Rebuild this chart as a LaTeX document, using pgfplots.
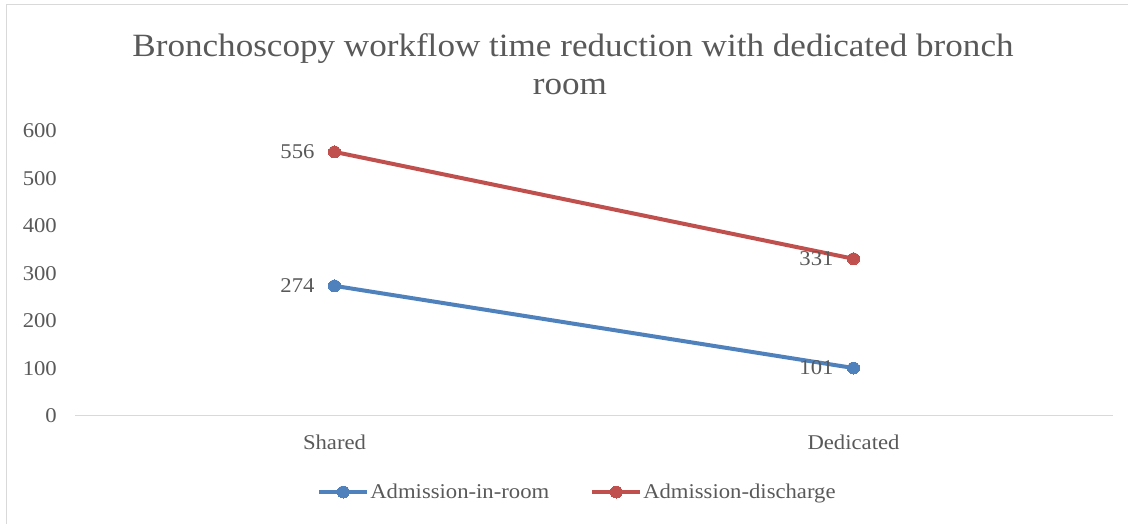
\documentclass[border=0pt]{standalone}
\usepackage{fontspec}
\setmainfont{Liberation Serif}[FakeStretch=1.08]
\usepackage{pgfplots}
\pgfplotsset{compat=1.18}
\definecolor{txt}{HTML}{595959}
\definecolor{axl}{HTML}{D9D9D9}
\definecolor{bl}{HTML}{4F81BD}
\definecolor{rd}{HTML}{C0504D}
\begin{document}
\begin{tikzpicture}[x=1pt,y=1pt]
\useasboundingbox (0,0) rectangle (1130,524);
\draw[axl, line width=1pt] (6.5,0) -- (6.5,519) -- (1128,519);
\node[anchor=base, text=txt, font=\fontsize{32.5}{38}\selectfont, inner sep=0pt] at (573,467) {Bronchoscopy workflow time reduction with dedicated bronch};
\node[anchor=base, text=txt, font=\fontsize{32.5}{38}\selectfont, inner sep=0pt] at (570,429) {room};
\begin{axis}[
  at={(75pt,108pt)}, anchor=south west,
  scale only axis, width=1038pt, height=285pt,
  xmin=-0.5, xmax=1.5, ymin=0, ymax=600,
  axis x line=bottom, axis y line=left,
  x axis line style={axl, line width=1pt, -},
  y axis line style={draw=none},
  /pgf/number format/assume math mode=true,
  xtick={0,1}, xticklabels={Shared,Dedicated},
  ytick={0,100,...,600},
  major tick length=0pt,
  tick label style={text=txt, font=\fontsize{21}{25}\selectfont, inner sep=0pt},
  xticklabel style={anchor=north, yshift=-19pt},
  yticklabel style={anchor=east, xshift=-18pt},
  clip=false,
  nodes near coords,
  every node near coord/.append style={anchor=east, inner sep=0pt, xshift=-20pt, text=txt, font=\fontsize{21}{25}\selectfont},
  legend columns=2,
  legend style={at={(0.4836,-0.2667)}, anchor=center, draw=none, fill=none,
    font=\fontsize{21}{25}\selectfont, text=txt,
    /tikz/every even column/.append style={column sep=40pt},
    /tikz/every odd column/.append style={column sep=0pt},
    nodes={inner sep=1pt}},
  legend image code/.code={\draw[#1, mark repeat=2, mark phase=2] plot coordinates {(0pt,0pt) (24pt,0pt) (48pt,0pt)};},
]
\addplot[bl, line width=4pt, mark=*, mark size=6pt, mark options={solid, line width=0pt}] coordinates {(0,274) (1,101)};
\addlegendentry{Admission-in-room}
\addplot[rd, line width=4pt, mark=*, mark size=6pt, mark options={solid, line width=0pt}] coordinates {(0,556) (1,331)};
\addlegendentry{Admission-discharge}
\end{axis}
\end{tikzpicture}
\end{document}
